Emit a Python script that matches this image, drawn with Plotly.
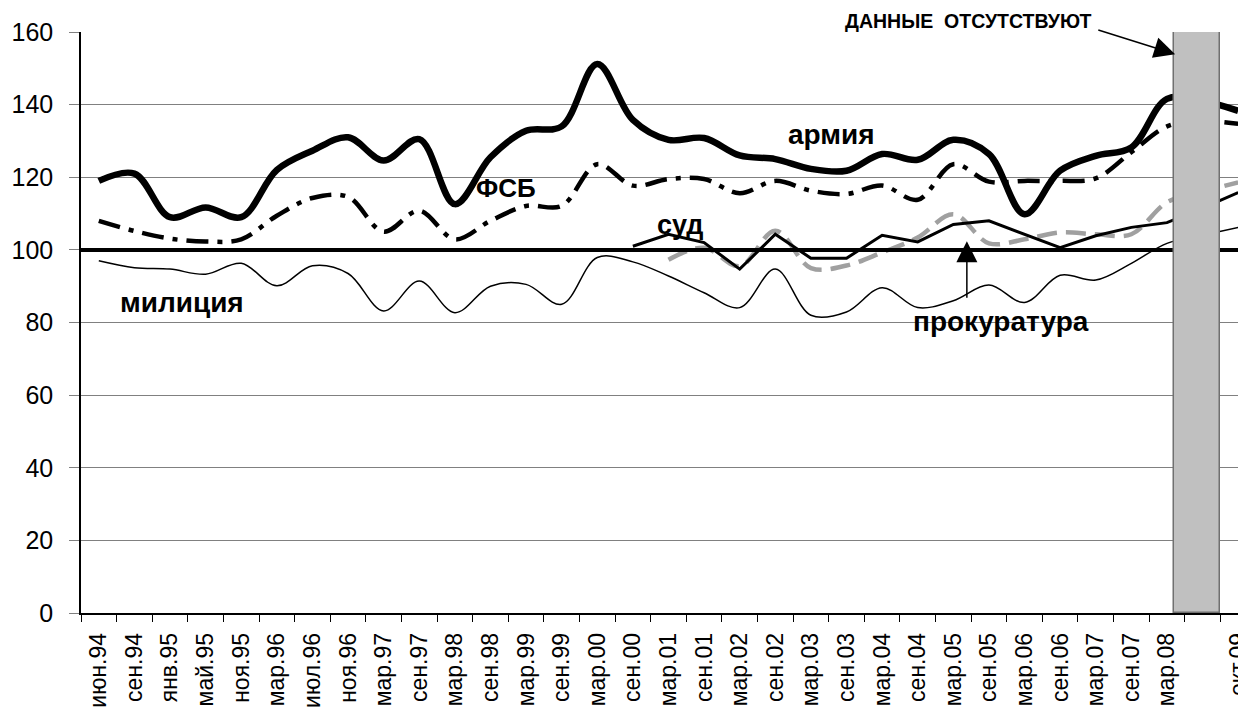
import plotly.graph_objects as go

CATEGORIES = ["июн.94", "сен.94", "янв.95", "май.95", "ноя.95", "мар.96", "июл.96", "ноя.96",
              "мар.97", "сен.97", "мар.98", "сен.98", "мар.99", "сен.99", "мар.00", "сен.00",
              "мар.01", "сен.01", "мар.02", "сен.02", "мар.03", "сен.03", "мар.04", "сен.04",
              "мар.05", "сен.05", "мар.06", "сен.06", "мар.07", "сен.07", "мар.08", " ", "окт.09"]

ARMY = [119, 121, 109, 111.7, 109, 122, 127.3, 131, 124.6, 130.5, 112.6, 125.5, 132.8, 134,
        151.2, 135.8, 130.3, 130.8, 126, 125, 122.3, 121.8, 126.4, 124.8, 130.3, 126.4, 109.8,
        121.8, 125.9, 128.2, 141.6, 141, 138.3]
FSB = [108, 105.2, 103.1, 102.3, 102.9, 109.4, 114.3, 114.6, 105, 110.8, 102.9, 108, 112.1,
       112.1, 123.6, 117.7, 119.5, 119.5, 115.6, 119, 116.3, 115.4, 117.7, 113.8, 123.6, 118.8,
       119, 119, 119.7, 126.9, 134, 135.5, 134.7]
POLICE = [97, 95.1, 94.7, 93.3, 96.3, 90.1, 95.6, 93.5, 83.2, 91.4, 82.7, 90, 90.5, 85, 97.9,
          96.7, 92.8, 88.2, 84.1, 94.7, 82, 82.9, 89.6, 84.1, 86, 90.3, 85.5, 93, 91.7, 96.3,
          101.8, 104, 106.2]
COURT_START = 15
COURT = [101, 104.3, 102, 94.7, 104.3, 97.7, 97.7, 104, 102.2, 107, 108, 104.3, 100.6, 103.9,
         106.2, 107.5, 111.5, 115.8]
PROSEC_START = 16
PROSEC = [97.3, 100.6, 95.5, 105.3, 95, 95.7, 99.3, 103.4, 109.8, 101.8, 102.9, 104.8, 104.3,
          104.3, 113.1, 116, 118.6]
NO_DATA_CAT = [" "]
NO_DATA_VAL = [160]
BASELINE = 100

FONT = "Liberation Sans, Arial, sans-serif"
YMAX = 160

fig = go.Figure()

fig.add_trace(go.Scatter(x=CATEGORIES, y=POLICE, mode="lines", line=dict(color="black", width=1.5, shape="spline", smoothing=1), showlegend=False))
fig.add_trace(go.Scatter(x=CATEGORIES, y=FSB, mode="lines", line=dict(color="black", width=4.5, dash="22px,9px,5px,9px", shape="spline", smoothing=1), showlegend=False))
fig.add_trace(go.Scatter(x=CATEGORIES[PROSEC_START:], y=PROSEC, mode="lines", line=dict(color="#a0a0a0", width=4.5, dash="20px,9px", shape="spline", smoothing=1), showlegend=False))
fig.add_trace(go.Scatter(x=CATEGORIES[COURT_START:], y=COURT, mode="lines", line=dict(color="black", width=3, shape="linear"), showlegend=False))
fig.add_trace(go.Scatter(x=CATEGORIES, y=ARMY, mode="lines", line=dict(color="black", width=6.5, shape="spline", smoothing=1), showlegend=False))

# reference line at 100 (overlay subplot spanning full width)
fig.add_trace(go.Scatter(x=[0, 1], y=[BASELINE, BASELINE], xaxis="x2", yaxis="y2", mode="lines",
                         line=dict(color="black", width=4), showlegend=False))

# "no data" column, drawn on top
fig.add_trace(go.Bar(x=NO_DATA_CAT, y=NO_DATA_VAL, xaxis="x3", yaxis="y3", width=1.31, offset=-0.81,
                     marker=dict(color="#c0c0c0", line=dict(color="#707070", width=1.5)), showlegend=False))

xr = [-0.5, 32.22]
fig.update_layout(
    width=1238, height=701, autosize=False,
    margin=dict(l=73, r=0, t=24, b=96, autoexpand=False),
    paper_bgcolor="white", plot_bgcolor="white",
    font=dict(family=FONT, color="black"),
    bargap=0,
    xaxis=dict(type="category", categoryorder="array", categoryarray=CATEGORIES, range=xr,
               tickson="boundaries", ticks="outside", ticklen=7, tickcolor="black", tickwidth=1,
               showgrid=False, showline=True, linecolor="black", linewidth=1.5,
               tickangle=-90, tickfont=dict(size=23, family=FONT), ticklabelstandoff=9,
               zeroline=False, automargin=False),
    yaxis=dict(range=[0, YMAX], dtick=20, ticks="outside", ticklen=10, tickcolor="#808080",
               showgrid=True, gridcolor="#808080", gridwidth=1, showline=True, linecolor="black",
               linewidth=1.5, tickfont=dict(size=25, family=FONT), ticklabelstandoff=11,
               zeroline=False, automargin=False),
    xaxis2=dict(range=[0, 1], overlaying="x", visible=False),
    yaxis2=dict(range=[0, YMAX], overlaying="y", visible=False),
    xaxis3=dict(type="category", categoryorder="array", categoryarray=CATEGORIES, range=xr,
                overlaying="x", visible=False),
    yaxis3=dict(range=[0, YMAX], overlaying="y", visible=False),
)

def bold(size):
    return dict(family=FONT, size=size, color="black")

ann = [
    ("<b>армия</b>", 20.57, 131.9, 28),
    ("<b>ФСБ</b>", 11.44, 117.1, 26),
    ("<b>суд</b>", 16.35, 106.9, 27),
    ("<b>милиция</b>", 2.35, 85.5, 28),
    ("<b>прокуратура</b>", 25.33, 80.2, 28),
]
for t, x, y, s in ann:
    fig.add_annotation(text=t, x=x, y=y, xref="x", yref="y", showarrow=False, font=bold(s),
                       xanchor="center", yanchor="middle")

fig.add_annotation(text="<b>ДАННЫЕ\u00a0\u00a0ОТСУТСТВУЮТ</b>", x=24.42, y=163.1 / YMAX,
                   xref="x", yref="paper", showarrow=False, font=bold(19.5),
                   xanchor="center", yanchor="middle")
fig.add_annotation(text="", x=30.23, y=153.9, ax=28.03, ay=160.7, xref="x", yref="y",
                   axref="x", ayref="y", showarrow=True, arrowhead=2, arrowsize=2.8,
                   arrowwidth=1.5, arrowcolor="black")
fig.add_annotation(text="", x=24.38, y=102.4, ax=24.38, ay=86.4, xref="x", yref="y",
                   axref="x", ayref="y", showarrow=True, arrowhead=2, arrowsize=2.8,
                   arrowwidth=1.5, arrowcolor="black")

fig.write_html("out.html")
